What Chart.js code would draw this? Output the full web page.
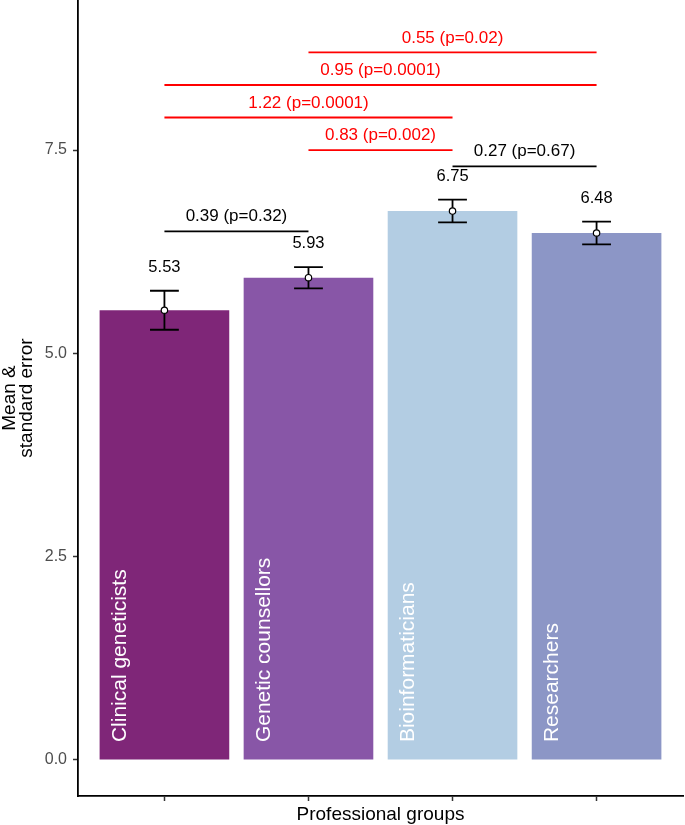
<!DOCTYPE html>
<html>
<head>
<meta charset="utf-8">
<script src="https://cdn.jsdelivr.net/npm/chart.js@4"></script>
<style>
  html, body { margin: 0; padding: 0; background: #fff; }
  #wrap { width: 685px; height: 825px; }
</style>
</head>
<body>
<div id="wrap"><canvas id="chart"></canvas></div>
<script>
// dados
const groups   = ['Clinical geneticists', 'Genetic counsellors', 'Bioinformaticians', 'Researchers'];
const groupPos = [1, 2, 3, 4];
const means    = [5.53, 5.93, 6.75, 6.48];
const stdErr   = [0.24, 0.13, 0.14, 0.14];
const yTicks   = [0, 2.5, 5, 7.5];

// comparações entre grupos
const compFrom   = [1, 3, 2, 1, 1, 2];
const compTo     = [2, 4, 3, 3, 4, 4];
const compLevel  = [6.5, 7.3, 7.5, 7.9, 8.3, 8.7];
const compLabels = ['0.39 (p=0.32)', '0.27 (p=0.67)', '0.83 (p=0.002)', '1.22 (p=0.0001)', '0.95 (p=0.0001)', '0.55 (p=0.02)'];
const compSig    = [false, false, true, true, true, true];

const barColors = ['#7f2678', '#8856a7', '#b3cde3', '#8c96c6'];
const FONT = "'Liberation Sans', Arial, sans-serif";

// barras de erro + textos
const anotacoes = {
  id: 'anotacoes',
  afterDatasetDraw(chart, args) {
    if (args.index !== 0) return;
    const { ctx, scales: { x, y } } = chart;
    ctx.save();
    ctx.strokeStyle = '#000';
    ctx.lineWidth = 1.8;
    groupPos.forEach((g, i) => {
      const xc = x.getPixelForValue(g);
      const xl = x.getPixelForValue(g - 0.1);
      const xr = x.getPixelForValue(g + 0.1);
      const yt = y.getPixelForValue(means[i] + stdErr[i]);
      const yb = y.getPixelForValue(means[i] - stdErr[i]);
      ctx.beginPath();
      ctx.moveTo(xc, yt); ctx.lineTo(xc, yb);
      ctx.moveTo(xl, yt); ctx.lineTo(xr, yt);
      ctx.moveTo(xl, yb); ctx.lineTo(xr, yb);
      ctx.stroke();
    });
    ctx.restore();
  },
  afterDatasetsDraw(chart) {
    const { ctx, scales: { x, y } } = chart;
    ctx.save();
    ctx.textAlign = 'center';
    ctx.textBaseline = 'middle';

    // valores acima das barras
    ctx.fillStyle = '#000';
    ctx.font = '16.5px ' + FONT;
    groupPos.forEach((g, i) => {
      ctx.fillText(means[i].toFixed(2), x.getPixelForValue(g), y.getPixelForValue(means[i] + stdErr[i] + 0.29));
    });

    // linhas de comparação
    ctx.font = '17px ' + FONT;
    ctx.lineWidth = 1.8;
    compLabels.forEach((lab, i) => {
      const cor = compSig[i] ? '#ff0000' : '#000000';
      const x1 = x.getPixelForValue(compFrom[i]);
      const x2 = x.getPixelForValue(compTo[i]);
      const yl = y.getPixelForValue(compLevel[i]);
      ctx.strokeStyle = cor;
      ctx.fillStyle = cor;
      ctx.beginPath();
      ctx.moveTo(x1, yl); ctx.lineTo(x2, yl);
      ctx.stroke();
      ctx.fillText(lab, (x1 + x2) / 2, y.getPixelForValue(compLevel[i] + 0.18));
    });

    // nomes dos grupos dentro das barras
    ctx.fillStyle = '#fff';
    ctx.font = '21px ' + FONT;
    ctx.textAlign = 'left';
    groupPos.forEach((g, i) => {
      ctx.save();
      ctx.translate(x.getPixelForValue(g - 0.31), y.getPixelForValue(0.22));
      ctx.rotate(-Math.PI / 2);
      ctx.fillText(groups[i], 0, 0);
      ctx.restore();
    });
    ctx.restore();
  }
};

new Chart(document.getElementById('chart'), {
  type: 'bar',
  data: {
    datasets: [{
      type: 'bar',
      data: groupPos.map((g, i) => ({ x: g, y: means[i] })),
      backgroundColor: barColors,
      borderWidth: 0,
      categoryPercentage: 1,
      barPercentage: 0.9,
      order: 1
    }, {
      type: 'scatter',
      data: groupPos.map((g, i) => ({ x: g, y: means[i] })),
      pointRadius: 3.2,
      pointBackgroundColor: '#fff',
      pointBorderColor: '#000',
      pointBorderWidth: 1.2,
      order: 0
    }]
  },
  options: {
    responsive: true,
    maintainAspectRatio: false,
    animation: false,
    layout: { autoPadding: false, padding: { top: 0, right: 2, bottom: 1, left: 0 } },
    plugins: { legend: { display: false }, tooltip: { enabled: false } },
    scales: {
      x: {
        type: 'linear',
        offset: false,
        min: 0.4,
        max: 4.6,
        afterBuildTicks: s => { s.ticks = groupPos.map(v => ({ value: v })); },
        afterFit: s => { s.height = 28; s.paddingLeft = 0; s.paddingRight = 0; },
        ticks: { callback: () => '', padding: 0 },
        grid: { display: true, offset: false, drawOnChartArea: false, tickLength: 5, tickColor: '#333', tickWidth: 1.5 },
        border: { display: true, color: '#000', width: 1.8 },
        title: { display: true, text: 'Professional groups', color: '#000', font: { family: FONT, size: 19, lineHeight: 1 }, padding: 0 }
      },
      y: {
        min: -0.443,
        max: 9.345,
        afterBuildTicks: s => { s.ticks = yTicks.map(v => ({ value: v })); },
        afterFit: s => { s.width = 78; s.paddingTop = 0; s.paddingBottom = 0; },
        ticks: { callback: v => Number(v).toFixed(1), color: '#4d4d4d', font: { family: FONT, size: 16 }, padding: 6 },
        grid: { display: true, drawOnChartArea: false, tickLength: 5, tickColor: '#333', tickWidth: 1.5 },
        border: { display: true, color: '#000', width: 1.8 },
        title: { display: true, text: ['Mean &', 'standard error'], color: '#000', font: { family: FONT, size: 19, lineHeight: 0.9 }, padding: { top: 1, bottom: 0 } }
      }
    }
  },
  plugins: [anotacoes]
});
</script>
</body>
</html>
